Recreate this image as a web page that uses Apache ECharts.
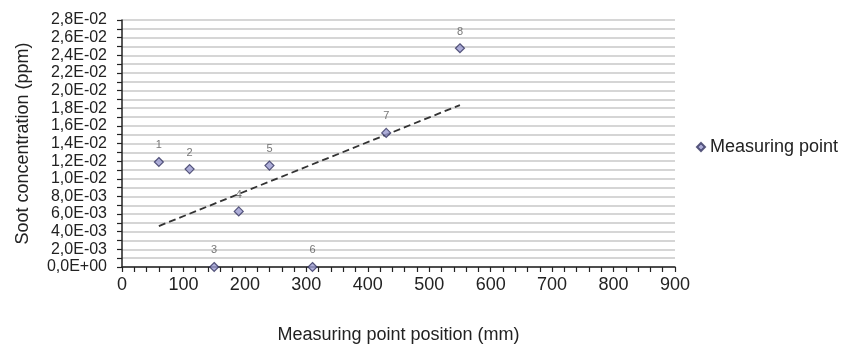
<!DOCTYPE html>
<html>
<head>
<meta charset="utf-8">
<script src="https://cdn.jsdelivr.net/npm/echarts@6/dist/echarts.min.js"></script>
<style>html,body{margin:0;padding:0;background:#fff;}#c{width:845px;height:349px;}</style>
</head>
<body>
<div id="c"></div>
<script>
var pointLabels = ['1','2','3','4','5','6','7','8'];
var positions = [60, 110, 150, 190, 240, 310, 430, 550];
var soot = [0.0119, 0.0111, 0.0, 0.0063, 0.0115, 0.0, 0.0152, 0.0248];
var seriesName = 'Measuring point';

// linear trendline (least squares) from the data
function trend(xs, ys){
  var n = xs.length, mx = 0, my = 0, sxx = 0, sxy = 0;
  for (var i=0;i<n;i++){ mx += xs[i]; my += ys[i]; }
  mx/=n; my/=n;
  for (var j=0;j<n;j++){ sxx += (xs[j]-mx)*(xs[j]-mx); sxy += (xs[j]-mx)*(ys[j]-my); }
  var b = sxy/sxx, a = my - b*mx;
  var x0 = Math.min.apply(null, xs), x1 = Math.max.apply(null, xs);
  return [[x0, a+b*x0],[x1, a+b*x1]];
}

function sci(v){
  if (Math.abs(v) < 1e-12) return '0,0E+00';
  var e = Math.floor(Math.log10(Math.abs(v)));
  var m = Math.round(v/Math.pow(10,e)*10)/10;
  if (m >= 10){ m = m/10; e += 1; }
  var s = m.toFixed(1).replace('.', ',');
  var es = (e<0?'-':'+') + (Math.abs(e)<10?'0':'') + Math.abs(e);
  return s + 'E' + es;
}

var font = 'Liberation Sans, Arial, sans-serif';
var chart = echarts.init(document.getElementById('c'));
var scatterData = positions.map(function(x,i){ return [x, soot[i]]; });

chart.setOption({
  animation: false,
  backgroundColor: '#ffffff',
  grid: {left: 122, right: 170, top: 20, bottom: 81},
  legend: {
    data: [{name: seriesName, icon: 'diamond'}],
    left: 691, top: 133,
    itemWidth: 8, itemHeight: 8, itemGap: 4,
    textStyle: {fontFamily: font, fontSize: 18, color: '#222'}
  },
  xAxis: {
    type: 'value', min: 0, max: 900, interval: 100,
    name: 'Measuring point position (mm)', nameLocation: 'middle', nameGap: 59,
    nameTextStyle: {fontFamily: font, fontSize: 18, color: '#222'},
    axisLine: {show: true, onZero: false, lineStyle: {color: '#222', width: 1.5}},
    axisTick: {show: true, inside: false, length: 5, lineStyle: {color: '#222', width: 1.2}},
    minorTick: {show: true, splitNumber: 5, length: 5, lineStyle: {color: '#222', width: 1.2}},
    axisLabel: {fontFamily: font, fontSize: 18, color: '#222', margin: 9, showMinLabel: true, showMaxLabel: true},
    splitLine: {show: false}
  },
  yAxis: {
    type: 'value', min: 0, max: 0.028, interval: 0.002,
    name: 'Soot concentration (ppm)', nameLocation: 'middle', nameGap: 90, nameRotate: 90,
    nameTextStyle: {fontFamily: font, fontSize: 18, color: '#222'},
    axisLine: {show: true, lineStyle: {color: '#222', width: 1.5}},
    axisTick: {show: true, inside: false, length: 5, lineStyle: {color: '#222', width: 1.2}},
    minorTick: {show: true, splitNumber: 2, length: 5, lineStyle: {color: '#222', width: 1.2}},
    axisLabel: {fontFamily: font, fontSize: 16, color: '#222', margin: 15, formatter: sci, showMinLabel: true, showMaxLabel: true},
    splitLine: {show: true, lineStyle: {color: '#c8c8c8', width: 1.5}},
    minorSplitLine: {show: true, lineStyle: {color: '#c8c8c8', width: 1.5}}
  },
  series: [
    {
      name: 'trend', type: 'line', data: trend(positions, soot),
      symbol: 'none', silent: true, z: 3,
      lineStyle: {color: '#333', width: 1.8, type: [7, 4]}
    },
    {
      name: seriesName, type: 'scatter', data: scatterData,
      symbol: 'diamond', symbolSize: 9, z: 4,
      itemStyle: {color: '#9a9ad0', borderColor: '#33335f', borderWidth: 1.2},
      label: {
        show: true, position: 'top', distance: 6,
        fontFamily: font, fontSize: 11, color: '#555',
        formatter: function(p){ return pointLabels[p.dataIndex]; }
      }
    }
  ]
});
</script>
</body>
</html>
